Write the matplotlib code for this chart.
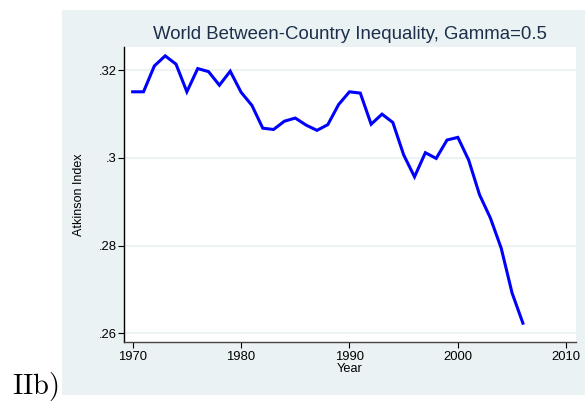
import matplotlib
matplotlib.use("Agg")
import matplotlib.pyplot as plt
from matplotlib.patches import Rectangle

years = list(range(1970, 2007))
atkinson = [0.3151, 0.3151, 0.3210, 0.3233, 0.3214, 0.3151, 0.3204, 0.3197,
            0.3166, 0.3198, 0.3150, 0.3120, 0.3068, 0.3065, 0.3084, 0.3091,
            0.3075, 0.3063, 0.3076, 0.3122, 0.3151, 0.3148, 0.3077, 0.3100,
            0.3081, 0.3007, 0.2957, 0.3012, 0.2999, 0.3041, 0.3047, 0.2995,
            0.2916, 0.2863, 0.2794, 0.2692, 0.2623]
xticks = [1970, 1980, 1990, 2000, 2010]
yticks = [0.26, 0.28, 0.30, 0.32]
ytick_labels = [".26", ".28", ".3", ".32"]

plt.rcParams['font.family'] = ['Liberation Sans', 'DejaVu Sans']
plt.rcParams['mathtext.fontset'] = 'cm'

W, H = 585, 407
fig = plt.figure(figsize=(W / 100, H / 100), dpi=100)
fig.patch.set_facecolor('white')

bg = '#EAF2F3'
fig.patches.append(Rectangle((62 / W, 1 - 395 / H), (W - 62) / W, (395 - 10) / H,
                             transform=fig.transFigure, facecolor=bg,
                             edgecolor='none', zorder=-10))

ax = fig.add_axes([124 / W, 1 - 341.7 / H, (575.7 - 124) / W, (341.7 - 47) / H])
ax.set_zorder(1)
ax.set_facecolor('white')
ax.plot(years, atkinson, color='#0000FF', lw=2.2, solid_joinstyle='miter', zorder=3)

ax.set_xlim(1969.2, 2010.87)
ax.set_ylim(0.25808, 0.32532)
ax.set_xticks(xticks)
ax.set_xticklabels([str(t) for t in xticks])
ax.set_yticks(yticks)
ax.set_yticklabels(ytick_labels)
ax.yaxis.grid(True, color=bg, lw=1.3, zorder=1)
ax.xaxis.grid(False)

for s in ['top', 'right']:
    ax.spines[s].set_visible(False)
ax.spines['left'].set_color('black')
ax.spines['left'].set_linewidth(1.0)
ax.spines['bottom'].set_color('#444444')
ax.spines['bottom'].set_linewidth(1.0)

ax.tick_params(axis='both', direction='out', length=4, width=0.8,
               labelsize=9.4, colors='black')
ax.tick_params(axis='y', pad=1)
ax.tick_params(axis='x', pad=3)

ax.set_xlabel('Year', fontsize=9.2, labelpad=0)
ax.set_ylabel('Atkinson Index', fontsize=9, labelpad=10)
ax.set_title('World Between-Country Inequality, Gamma=0.5', fontsize=13.4,
             color='#1C2E4A', pad=5.5)

fig.text(12 / W, 1 - 394 / H, r'$\mathrm{IIb)}$', fontsize=20.5, ha='left',
         va='baseline', color='black')

fig.savefig('out.png', dpi=100, facecolor='white')
